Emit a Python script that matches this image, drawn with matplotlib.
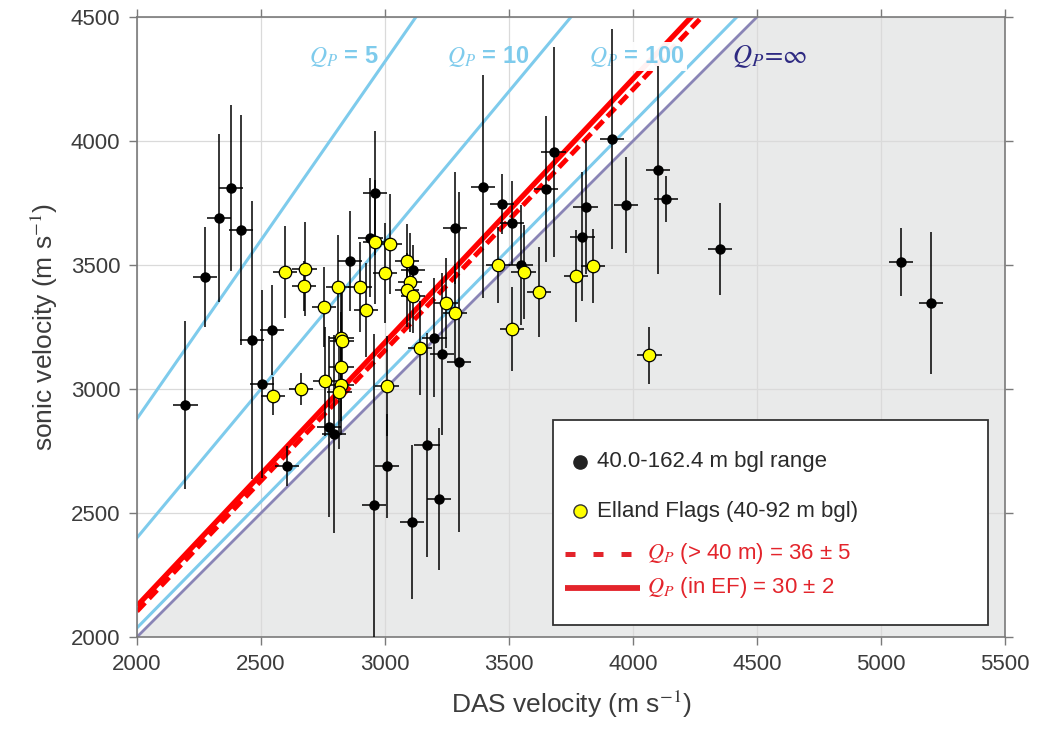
import numpy as np
import matplotlib
matplotlib.use('Agg')
import matplotlib.pyplot as plt
from matplotlib.patches import Rectangle
from matplotlib.lines import Line2D

plt.rcParams['font.family'] = ['Liberation Sans', 'DejaVu Sans']
plt.rcParams['mathtext.fontset'] = 'stix'

# ---------------------------------------------------------------------------
# Data: DAS vs sonic velocities (m/s)
# ---------------------------------------------------------------------------

# all picks, 40.0-162.4 m bgl
das_all = [2194, 2274, 2331, 2379, 2419, 2464, 2544, 2504, 2605, 2774,
           2794, 2956, 3008, 3109, 3169, 3218, 3298, 3230, 3198, 3395,
           3472, 3512, 3649, 3681, 3915, 4101, 4133, 3972, 3810, 3795,
           3282, 3548, 3113, 5081, 5202, 4351, 2859, 2960, 2940]
sonic_all = [2935, 3452, 3690, 3810, 3641, 3198, 3238, 3020, 2690, 2847,
             2819, 2532, 2690, 2464, 2774, 2556, 3109, 3141, 3206, 3815,
             3746, 3669, 3806, 3956, 4008, 3883, 3766, 3742, 3734, 3613,
             3649, 3500, 3480, 3512, 3347, 3565, 3516, 3790, 3609]
das_err_all = [50, 50, 50, 50, 50, 50, 50, 50, 50, 50,
               50, 50, 50, 50, 52, 50, 50, 47, 50, 50,
               50, 50, 50, 50, 50, 50, 50, 50, 50, 50,
               50, 50, 50, 50, 50, 50, 50, 50, 50]
sonic_err_all = [340, 200, 340, 335, 465, 560, 180, 380, 80, 365,
                 400, 690, 210, 310, 450, 285, 685, 325, 240, 450,
                 120, 170, 295, 425, 445, 420, 93, 192, 270, 260,
                 225, 240, 100, 137, 288, 185, 200, 250, 240]

# Elland Flags picks, 40-92 m bgl
das_ef = [2597, 2677, 2673, 2754, 2811, 2899, 2923, 2960, 3020, 3000,
          3089, 3101, 3089, 3113, 2823, 2827, 2823, 2758, 2823, 2815,
          2661, 2548, 3008, 3141, 3246, 3282, 3456, 3560, 3621, 3770,
          3839, 3512, 4065]
sonic_ef = [3472, 3484, 3415, 3331, 3411, 3411, 3319, 3593, 3585, 3468,
            3516, 3431, 3399, 3375, 3206, 3194, 3089, 3032, 3016, 2988,
            3000, 2972, 3012, 3165, 3347, 3306, 3500, 3472, 3391, 3456,
            3496, 3242, 3137]
das_err_ef = [50, 50, 50, 50, 50, 50, 50, 50, 50, 50,
              50, 50, 50, 50, 50, 50, 50, 50, 50, 50,
              50, 50, 50, 50, 50, 50, 50, 50, 50, 50,
              50, 50, 50]
sonic_err_ef = [185, 190, 100, 160, 210, 180, 190, 250, 200, 200,
                150, 200, 150, 150, 200, 200, 220, 220, 200, 230,
                65, 75, 200, 190, 180, 200, 155, 190, 180, 185,
                150, 170, 115]

# reference attenuation curves and the two fits
q_reference = [5, 10, 100]
q_fit_all = 36      # > 40 m, 36 +/- 5
q_fit_ef = 30       # in EF, 30 +/- 2

# sonic / DAS frequency ratio used in the dispersion relation
F_SONIC = 20000.0
F_DAS = 65.0

X_LIM = (2000, 5500)
Y_LIM = (2000, 4500)

BLUE = '#7ecbec'
PURPLE = '#8a85b6'
RED = '#ff0000'
RED_TXT = '#e3242b'
TXT = '#3c3c3c'


def sonic_from_das(v, q):
    """Velocity dispersion between DAS and sonic frequencies for a constant Q."""
    v = np.asarray(v, dtype=float)
    if np.isinf(q):
        return v
    return v * (F_SONIC / F_DAS) ** (1.0 / (np.pi * q))


fig = plt.figure(figsize=(10.37, 7.40), dpi=100)
ax = fig.add_axes([137 / 1037, 1 - 637 / 740, 868 / 1037, 620 / 740])

xs = np.array(X_LIM, dtype=float)

# shaded region below Q = infinity (sonic slower than DAS)
ax.fill_between(xs, Y_LIM[0], xs, color='#e9eaea', zorder=0, linewidth=0)

for q in q_reference:
    ax.plot(xs, sonic_from_das(xs, q), color=BLUE, lw=2.2, zorder=1)
ax.plot(xs, sonic_from_das(xs, np.inf), color=PURPLE, lw=2.0, zorder=1)

ax.plot(xs, sonic_from_das(xs, q_fit_ef), color=RED, lw=3.8, zorder=2,
        solid_capstyle='butt')
ax.plot(xs, sonic_from_das(xs, q_fit_all), color=RED, lw=3.5, zorder=2,
        dashes=(2.4, 1.2))

# Q labels along the top
lab_y = 4340
ax.text(2835, lab_y, r'$Q_P$ = 5', color=BLUE, fontsize=17, fontweight='bold',
        ha='center', va='center', zorder=3)
ax.text(3415, lab_y, r'$Q_P$ = 10', color=BLUE, fontsize=17, fontweight='bold',
        ha='center', va='center', zorder=3)
ax.text(4016, lab_y, r'$Q_P$ = 100', color=BLUE, fontsize=17, fontweight='bold',
        ha='center', va='center', zorder=3,
        bbox=dict(facecolor='white', edgecolor='none', pad=1.5, alpha=0.95))
ax.text(4552, lab_y, r'$Q_P\!=\!\infty$', color='#2e2a82', fontsize=19,
        ha='center', va='center', zorder=3)

# data with error bars
ax.errorbar(das_all, sonic_all, xerr=das_err_all, yerr=sonic_err_all,
            fmt='o', color='black', ms=6.5, ecolor='black', elinewidth=1.1,
            capsize=0, zorder=4)
ax.errorbar(das_ef, sonic_ef, xerr=das_err_ef, yerr=sonic_err_ef,
            fmt='o', mfc='#ffff00', mec='black', mew=0.9, ms=9,
            ecolor='black', elinewidth=1.1, capsize=0, zorder=5)

ax.set_xlim(*X_LIM)
ax.set_ylim(*Y_LIM)
ax.set_xticks(np.arange(2000, 5501, 500))
ax.set_yticks(np.arange(2000, 4501, 500))
ax.grid(True, color='#dadada', lw=0.9, zorder=0.5)
ax.set_axisbelow(True)

for s in ax.spines.values():
    s.set_color('#7a7a7a')
    s.set_linewidth(1.2)
ax.tick_params(direction='out', length=6, width=1.0, color='#7a7a7a',
               labelsize=16, labelcolor=TXT, top=True, right=True, pad=6)

ax.set_xlabel(r'DAS velocity (m s$^{-1}$)', fontsize=19, color=TXT, labelpad=10)
ax.set_ylabel(r'sonic velocity (m s$^{-1}$)', fontsize=19, color=TXT, labelpad=8)

# legend box drawn in axes fraction
def fx(px):
    return (px - 137) / 868


def fy(py):
    return (637 - py) / 620


tr = ax.transAxes
ax.add_patch(Rectangle((fx(553), fy(625)), fx(988) - fx(553), fy(420) - fy(625),
                       transform=tr, facecolor='white', edgecolor='#333333',
                       lw=1.3, zorder=6))
ax.add_line(Line2D([fx(580)], [fy(462)], transform=tr, marker='o', ms=9.5,
                   color='#222222', ls='none', zorder=7))
ax.add_line(Line2D([fx(580)], [fy(511)], transform=tr, marker='o', ms=9.5,
                   mfc='#ffff00', mec='#333333', mew=1.0, ls='none', zorder=7))
ax.add_line(Line2D([fx(565), fx(640)], [fy(554)] * 2, transform=tr,
                   color=RED_TXT, lw=3.6, dashes=(2.0, 3.6), zorder=7,
                   solid_capstyle='butt', dash_capstyle='butt'))
ax.add_line(Line2D([fx(565), fx(640)], [fy(588)] * 2, transform=tr,
                   color=RED_TXT, lw=4.2, zorder=7, solid_capstyle='butt'))
ax.text(fx(597), fy(462), '40.0-162.4 m bgl range', transform=tr, fontsize=16,
        color='#2a2a2a', va='center', zorder=7)
ax.text(fx(597), fy(511), 'Elland Flags (40-92 m bgl)', transform=tr,
        fontsize=16, color='#2a2a2a', va='center', zorder=7)
ax.text(fx(647), fy(554), r'$Q_P$ (> 40 m) = 36 ± 5', transform=tr,
        fontsize=16, color=RED_TXT, va='center', zorder=7)
ax.text(fx(647), fy(588), r'$Q_P$ (in EF) = 30 ± 2', transform=tr,
        fontsize=16, color=RED_TXT, va='center', zorder=7)

fig.savefig('out.png', dpi=100)
